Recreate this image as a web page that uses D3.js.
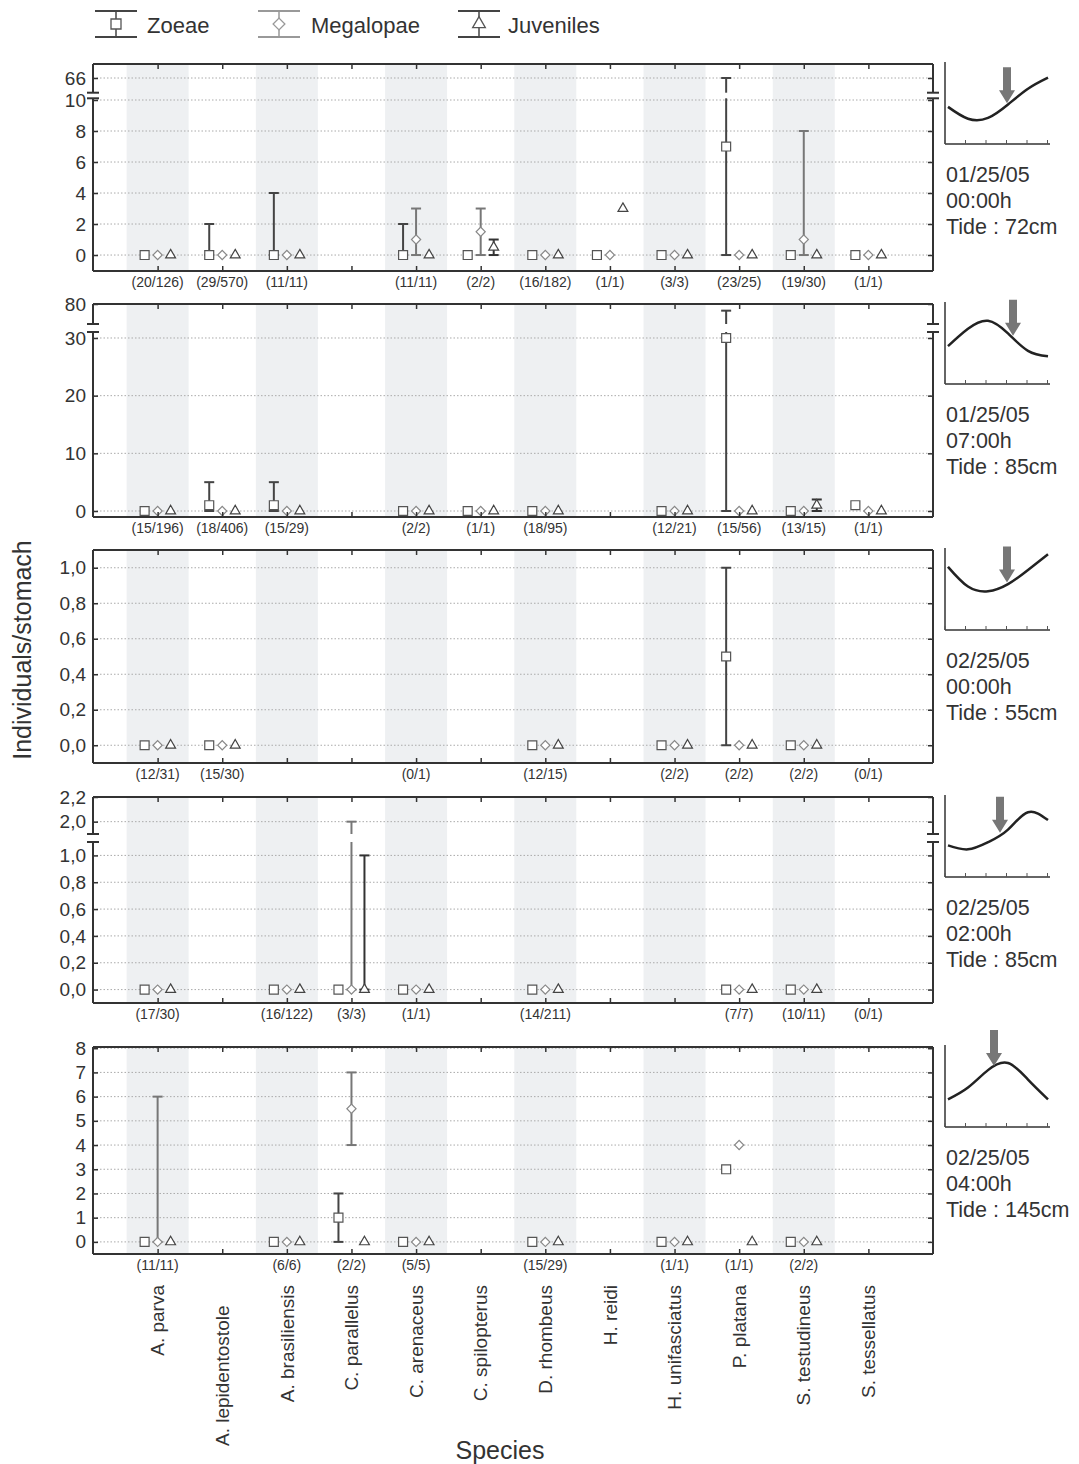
<!DOCTYPE html>
<html>
<head>
<meta charset="utf-8">
<script src="https://cdn.jsdelivr.net/npm/d3@7"></script>
<style>
  body { margin: 0; background: #fff; }
  svg { display: block; }
  text { font-family: "Liberation Sans", Arial, sans-serif; fill: #333; }
</style>
</head>
<body>
<svg id="chart" width="1079" height="1464"></svg>
<script>
const species = ["A. parva", "A. lepidentostole", "A. brasiliensis", "C. parallelus", "C. arenaceus",
  "C. spilopterus", "D. rhombeus", "H. reidi", "H. unifasciatus", "P. platana", "S. testudineus", "S. tessellatus"];
const stages = ["Zoeae", "Megalopae", "Juveniles"];

// 01/25/05 00:00h
const counts1 = ["(20/126)", "(29/570)", "(11/11)", null, "(11/11)", "(2/2)", "(16/182)", "(1/1)", "(3/3)", "(23/25)", "(19/30)", "(1/1)"];
const zoeae1 = [0, 0, 0, null, 0, 0, 0, 0, 0, 7, 0, 0];
const megalopae1 = [0, 0, 0, null, 1, 1.5, 0, 0, 0, 0, 1, 0];
const juveniles1 = [0, 0, 0, null, 0, 0.5, 0, 3, 0, 0, 0, 0];
const ranges1 = [["A. lepidentostole", "Zoeae", 0, 2], ["A. brasiliensis", "Zoeae", 0, 4],
  ["C. arenaceus", "Zoeae", 0, 2], ["C. arenaceus", "Megalopae", 0, 3],
  ["C. spilopterus", "Megalopae", 0, 3], ["C. spilopterus", "Juveniles", 0, 1],
  ["P. platana", "Zoeae", 0, 66], ["S. testudineus", "Megalopae", 0, 8]];
const yTicks1 = [0, 2, 4, 6, 8, 10];
const yTicksUp1 = [66];
const tide1 = [0.47, 0.32, 0.33, 0.5, 0.7, 0.84];
const arrow1 = 0.59;
const info1 = ["01/25/05", "00:00h", "Tide : 72cm"];

// 01/25/05 07:00h
const counts2 = ["(15/196)", "(18/406)", "(15/29)", null, "(2/2)", "(1/1)", "(18/95)", null, "(12/21)", "(15/56)", "(13/15)", "(1/1)"];
const zoeae2 = [0, 1, 1, null, 0, 0, 0, null, 0, 30, 0, 1];
const megalopae2 = [0, 0, 0, null, 0, 0, 0, null, 0, 0, 0, 0];
const juveniles2 = [0, 0, 0, null, 0, 0, 0, null, 0, 0, 1, 0];
const ranges2 = [["A. lepidentostole", "Zoeae", 0, 5], ["A. brasiliensis", "Zoeae", 0, 5],
  ["P. platana", "Zoeae", 0, 76], ["S. testudineus", "Juveniles", 0, 2]];
const yTicks2 = [0, 10, 20, 30];
const yTicksUp2 = [80];
const tide2 = [0.48, 0.7, 0.8, 0.64, 0.42, 0.35];
const arrow2 = 0.65;
const info2 = ["01/25/05", "07:00h", "Tide : 85cm"];

// 02/25/05 00:00h
const counts3 = ["(12/31)", "(15/30)", null, null, "(0/1)", null, "(12/15)", null, "(2/2)", "(2/2)", "(2/2)", "(0/1)"];
const zoeae3 = [0, 0, null, null, null, null, 0, null, 0, 0.5, 0, null];
const megalopae3 = [0, 0, null, null, null, null, 0, null, 0, 0, 0, null];
const juveniles3 = [0, 0, null, null, null, null, 0, null, 0, 0, 0, null];
const ranges3 = [["P. platana", "Zoeae", 0, 1]];
const yTicks3 = [0, 0.2, 0.4, 0.6, 0.8, 1.0];
const tide3 = [0.8, 0.55, 0.49, 0.58, 0.76, 0.96];
const arrow3 = 0.59;
const info3 = ["02/25/05", "00:00h", "Tide : 55cm"];

// 02/25/05 02:00h
const counts4 = ["(17/30)", null, "(16/122)", "(3/3)", "(1/1)", null, "(14/211)", null, null, "(7/7)", "(10/11)", "(0/1)"];
const zoeae4 = [0, null, 0, 0, 0, null, 0, null, null, 0, 0, null];
const megalopae4 = [0, null, 0, 0, 0, null, 0, null, null, 0, 0, null];
const juveniles4 = [0, null, 0, 0, 0, null, 0, null, null, 0, 0, null];
const ranges4 = [["C. parallelus", "Megalopae", 0, 2], ["C. parallelus", "Juveniles", 0, 1]];
const yTicks4 = [0, 0.2, 0.4, 0.6, 0.8, 1.0];
const yTicksUp4 = [2.0, 2.2];
const tide4 = [0.4, 0.35, 0.44, 0.6, 0.82, 0.72];
const arrow4 = 0.52;
const info4 = ["02/25/05", "02:00h", "Tide : 85cm"];

// 02/25/05 04:00h
const counts5 = ["(11/11)", null, "(6/6)", "(2/2)", "(5/5)", null, "(15/29)", null, "(1/1)", "(1/1)", "(2/2)", null];
const zoeae5 = [0, null, 0, 1, 0, null, 0, null, 0, 3, 0, null];
const megalopae5 = [0, null, 0, 5.5, 0, null, 0, null, 0, 4, 0, null];
const juveniles5 = [0, null, 0, 0, 0, null, 0, null, 0, 0, 0, null];
const ranges5 = [["A. parva", "Megalopae", 0, 6], ["C. parallelus", "Zoeae", 0, 2], ["C. parallelus", "Megalopae", 4, 7]];
const yTicks5 = [0, 1, 2, 3, 4, 5, 6, 7, 8];
const tide5 = [0.35, 0.5, 0.72, 0.81, 0.6, 0.35];
const arrow5 = 0.46;
const info5 = ["02/25/05", "04:00h", "Tide : 145cm"];

const tideX = [0, 0.2, 0.4, 0.6, 0.8, 1];

const svg = d3.select("#chart");
const left = 93, right = 933;
const x = d3.scalePoint().domain(species).range([left, right]).padding(1);
const offset = { Zoeae: -13, Megalopae: 0, Juveniles: 13 };
const lineColor = { Zoeae: "#444", Megalopae: "#777", Juveniles: "#333" };
const markColor = { Zoeae: "#555", Megalopae: "#888", Juveniles: "#444" };
const symbolFor = {
  Zoeae: d3.symbol().type(d3.symbolSquare).size(80),
  Megalopae: d3.symbol().type(d3.symbolSquare).size(42),
  Juveniles: d3.symbol().type(d3.symbolTriangle).size(42)
};

const panels = [
  { counts: counts1, values: [zoeae1, megalopae1, juveniles1], ranges: ranges1, ticks: yTicks1, ticksUp: yTicksUp1,
    tide: tide1, arrow: arrow1, info: info1, fmt: d3.format("d"),
    top: 64, bottom: 271, lower: [-1.03, 10.11], upper: [60.75, 71], breakLow: 98.3, breakHigh: 92.7 },
  { counts: counts2, values: [zoeae2, megalopae2, juveniles2], ranges: ranges2, ticks: yTicks2, ticksUp: yTicksUp2,
    tide: tide2, arrow: arrow2, info: info2, fmt: d3.format("d"),
    top: 304, bottom: 517, lower: [-1.04, 31.04], upper: [68, 80], breakLow: 332, breakHigh: 324 },
  { counts: counts3, values: [zoeae3, megalopae3, juveniles3], ranges: ranges3, ticks: yTicks3, ticksUp: [],
    tide: tide3, arrow: arrow3, info: info3, fmt: v => d3.format(".1f")(v).replace(".", ","),
    top: 550, bottom: 763, lower: [-0.1, 1.1] },
  { counts: counts4, values: [zoeae4, megalopae4, juveniles4], ranges: ranges4, ticks: yTicks4, ticksUp: yTicksUp4,
    tide: tide4, arrow: arrow4, info: info4, fmt: v => d3.format(".1f")(v).replace(".", ","),
    top: 797, bottom: 1003, lower: [-0.1, 1.1], upper: [1.9, 2.2], breakLow: 842, breakHigh: 834 },
  { counts: counts5, values: [zoeae5, megalopae5, juveniles5], ranges: ranges5, ticks: yTicks5, ticksUp: [],
    tide: tide5, arrow: arrow5, info: info5, fmt: d3.format("d"),
    top: 1047, bottom: 1254, lower: [-0.5, 8.05] }
];

panels.forEach(drawPanel);

function drawPanel(p) {
  const g = svg.append("g");
  const lo = d3.scaleLinear().domain(p.lower).range([p.bottom, p.upper ? p.breakLow : p.top]);
  const hi = p.upper ? d3.scaleLinear().domain(p.upper).range([p.breakHigh, p.top]) : null;
  const y = v => (hi && v > p.lower[1]) ? hi(v) : lo(v);

  // shaded bands
  g.selectAll(".band")
    .data(species.filter((d, i) => i % 2 === 0))
    .enter().append("rect")
    .attr("x", d => x(d) - 31)
    .attr("y", p.top)
    .attr("width", 62)
    .attr("height", p.bottom - p.top)
    .attr("fill", "#eef0f2");

  // gridlines
  const gridVals = p.ticks.concat(p.ticksUp);
  g.selectAll(".grid")
    .data(gridVals)
    .enter().append("line")
    .attr("x1", left).attr("x2", right)
    .attr("y1", d => y(d)).attr("y2", d => y(d))
    .attr("stroke", "#aaa")
    .attr("stroke-width", 1)
    .attr("stroke-dasharray", "1.5,2");

  // error bars
  p.ranges.forEach(([sp, st, a, b]) => {
    const cx = x(sp) + offset[st];
    const segs = [];
    if (hi && b > p.lower[1]) {
      segs.push([lo(a), p.breakLow]);
      segs.push([p.breakHigh, hi(b)]);
    } else {
      segs.push([y(a), y(b)]);
    }
    segs.forEach(s => {
      g.append("line")
        .attr("x1", cx).attr("x2", cx)
        .attr("y1", s[0]).attr("y2", s[1])
        .attr("stroke", lineColor[st]).attr("stroke-width", 2);
    });
    [a, b].forEach(v => {
      g.append("line")
        .attr("x1", cx - 5).attr("x2", cx + 5)
        .attr("y1", y(v)).attr("y2", y(v))
        .attr("stroke", lineColor[st]).attr("stroke-width", 2);
    });
  });

  // markers
  stages.forEach((st, k) => {
    const pts = species.map((sp, i) => ({ sp, v: p.values[k][i] })).filter(d => d.v !== null);
    g.selectAll(".m" + k)
      .data(pts)
      .enter().append("path")
      .attr("d", symbolFor[st])
      .attr("transform", d => `translate(${x(d.sp) + offset[st]},${y(d.v)})` + (st === "Megalopae" ? " rotate(45)" : ""))
      .attr("fill", "#fff")
      .attr("stroke", markColor[st])
      .attr("stroke-width", 1.2);
  });

  // axes ticks
  g.append("g").attr("transform", `translate(${left},0)`)
    .call(d3.axisLeft(lo).tickValues(p.ticks).tickSize(-5).tickPadding(7).tickFormat(p.fmt));
  g.append("g").attr("transform", `translate(${right},0)`)
    .call(d3.axisRight(lo).tickValues(p.ticks).tickSize(-5).tickFormat(""));
  if (hi) {
    g.append("g").attr("transform", `translate(${left},0)`)
      .call(d3.axisLeft(hi).tickValues(p.ticksUp).tickSize(-5).tickPadding(7).tickFormat(p.fmt));
    g.append("g").attr("transform", `translate(${right},0)`)
      .call(d3.axisRight(hi).tickValues(p.ticksUp).tickSize(-5).tickFormat(""));
  }
  g.append("g").attr("transform", `translate(0,${p.top})`)
    .call(d3.axisTop(x).tickSize(-5).tickFormat(""));
  g.append("g").attr("transform", `translate(0,${p.bottom})`)
    .call(d3.axisBottom(x).tickSize(-5).tickFormat(""));
  g.selectAll(".domain").remove();
  g.selectAll(".tick line").attr("stroke", "#333").attr("stroke-width", 1.5);
  g.selectAll(".tick text").style("font-size", "19px").attr("fill", "#333");

  // frame
  const frame = g.append("g").attr("stroke", "#333").attr("stroke-width", 2).attr("fill", "none");
  frame.append("line").attr("x1", left).attr("x2", right).attr("y1", p.top).attr("y2", p.top);
  frame.append("line").attr("x1", left).attr("x2", right).attr("y1", p.bottom).attr("y2", p.bottom);
  [left, right].forEach(ax => {
    if (hi) {
      frame.append("line").attr("x1", ax).attr("x2", ax).attr("y1", p.top).attr("y2", p.breakHigh);
      frame.append("line").attr("x1", ax).attr("x2", ax).attr("y1", p.breakLow).attr("y2", p.bottom);
      [p.breakHigh, p.breakLow].forEach(by => {
        frame.append("line").attr("x1", ax - 6).attr("x2", ax + 6).attr("y1", by).attr("y2", by);
      });
    } else {
      frame.append("line").attr("x1", ax).attr("x2", ax).attr("y1", p.top).attr("y2", p.bottom);
    }
  });

  // sample counts
  g.selectAll(".count")
    .data(species.map((sp, i) => ({ sp, c: p.counts[i] })).filter(d => d.c))
    .enter().append("text")
    .attr("x", d => x(d.sp))
    .attr("y", p.bottom + 16)
    .attr("text-anchor", "middle")
    .style("font-size", "14px")
    .text(d => d.c);

  drawTide(p);
}

function drawTide(p) {
  const w = 106, h = 82;
  const g = svg.append("g").attr("transform", `translate(944,${p.top - 2})`);
  const xs = d3.scaleLinear().domain([0, 1]).range([4, 104]);
  const ys = d3.scaleLinear().domain([0, 1]).range([h, 3]);
  g.append("line").attr("x1", 1).attr("x2", 1).attr("y1", 0).attr("y2", h).attr("stroke", "#333").attr("stroke-width", 1.5);
  g.append("line").attr("x1", 1).attr("x2", w).attr("y1", h).attr("y2", h).attr("stroke", "#333").attr("stroke-width", 1.5);
  g.selectAll(".tt").data(d3.range(6)).enter().append("line")
    .attr("x1", d => 1 + d * 20.5).attr("x2", d => 1 + d * 20.5)
    .attr("y1", h).attr("y2", h - 4)
    .attr("stroke", "#555").attr("stroke-width", 1);
  const pts = tideX.map((t, i) => [t, p.tide[i]]);
  g.append("path")
    .datum(pts)
    .attr("d", d3.line().curve(d3.curveNatural).x(d => xs(d[0])).y(d => ys(d[1])))
    .attr("fill", "none")
    .attr("stroke", "#222")
    .attr("stroke-width", 2.5);
  // arrow
  const ax = xs(p.arrow);
  const tipV = d3.scaleLinear().domain(tideX).range(p.tide)(p.arrow);
  const tip = ys(tipV) - 2;
  g.append("path")
    .attr("d", `M${ax - 4},${tip - 36} L${ax + 4},${tip - 36} L${ax + 4},${tip - 13} L${ax + 8},${tip - 13} L${ax},${tip} L${ax - 8},${tip - 13} L${ax - 4},${tip - 13} Z`)
    .attr("fill", "#777");
  // info text
  g.selectAll(".info").data(p.info).enter().append("text")
    .attr("x", 2)
    .attr("y", (d, i) => 112 + i * 26 + 8)
    .style("font-size", "21.5px")
    .text(d => d);
}

// category labels (A. lepidentostole sits lower, anchored at its start)
svg.selectAll(".cat")
  .data(species)
  .enter().append("text")
  .attr("transform", d => `translate(${x(d)},${d === "A. lepidentostole" ? 1446 : 1285}) rotate(-90)`)
  .attr("text-anchor", d => d === "A. lepidentostole" ? "start" : "end")
  .attr("dy", "0.35em")
  .style("font-size", "19px")
  .text(d => d);

// axis titles
svg.append("text")
  .attr("x", 500).attr("y", 1459)
  .attr("text-anchor", "middle")
  .style("font-size", "25px")
  .text("Species");
svg.append("text")
  .attr("transform", "translate(31,650) rotate(-90)")
  .attr("text-anchor", "middle")
  .style("font-size", "25px")
  .text("Individuals/stomach");

// legend
const legendX = [116, 279, 479];
const legendTextX = [147, 311, 508];
stages.forEach((st, k) => {
  const lg = svg.append("g");
  const cx = legendX[k];
  const col = st === "Megalopae" ? "#999" : "#444";
  lg.append("line").attr("x1", cx - 21).attr("x2", cx + 21).attr("y1", 11).attr("y2", 11).attr("stroke", col).attr("stroke-width", 1.8);
  lg.append("line").attr("x1", cx - 21).attr("x2", cx + 21).attr("y1", 37).attr("y2", 37).attr("stroke", col).attr("stroke-width", 1.8);
  lg.append("line").attr("x1", cx).attr("x2", cx).attr("y1", 11).attr("y2", 37).attr("stroke", col).attr("stroke-width", 1.5);
  lg.append("path")
    .attr("d", d3.symbol().type(st === "Juveniles" ? d3.symbolTriangle : d3.symbolSquare).size(st === "Zoeae" ? 100 : 70))
    .attr("transform", `translate(${cx},24)` + (st === "Megalopae" ? " rotate(45)" : ""))
    .attr("fill", "#fff").attr("stroke", st === "Megalopae" ? "#999" : "#555").attr("stroke-width", 1.3);
  lg.append("text").attr("x", legendTextX[k]).attr("y", 33).style("font-size", "22px").text(st);
});
</script>
</body>
</html>
